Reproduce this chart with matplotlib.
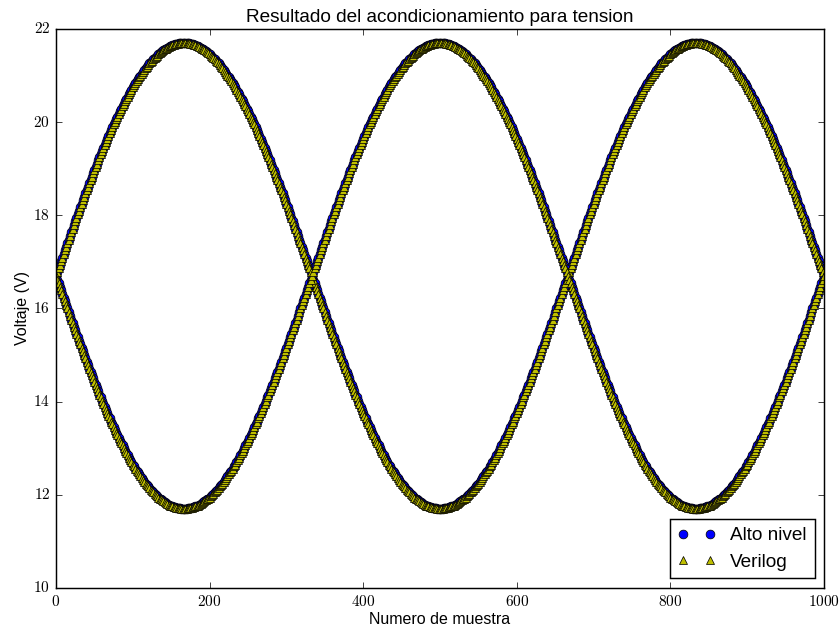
"""
Resultado del acondicionamiento para tension: high-level model vs. Verilog output.
"""
import numpy as np
import matplotlib
matplotlib.use('Agg')
import matplotlib.pyplot as plt
from matplotlib.ticker import FuncFormatter

plt.style.use('classic')
plt.rcParams['mathtext.fontset'] = 'cm'
plt.rcParams['font.family'] = ['Liberation Sans', 'DejaVu Sans']

# Voltage, upper curve, evenly spaced over samples 0..1000
alto_sup = [
    16.70, 16.78, 16.86, 16.94, 17.01, 17.09, 17.17, 17.25, 17.33, 17.40,
    17.48, 17.56, 17.64, 17.71, 17.79, 17.87, 17.94, 18.02, 18.09, 18.17,
    18.25, 18.32, 18.39, 18.47, 18.54, 18.61, 18.69, 18.76, 18.83, 18.90,
    18.97, 19.04, 19.11, 19.18, 19.25, 19.31, 19.38, 19.45, 19.51, 19.58,
    19.64, 19.70, 19.76, 19.83, 19.89, 19.95, 20.01, 20.07, 20.12, 20.18,
    20.24, 20.29, 20.34, 20.40, 20.45, 20.50, 20.55, 20.60, 20.65, 20.70,
    20.75, 20.79, 20.84, 20.88, 20.92, 20.96, 21.00, 21.04, 21.08, 21.12,
    21.16, 21.19, 21.22, 21.26, 21.29, 21.32, 21.35, 21.38, 21.40, 21.43,
    21.46, 21.48, 21.50, 21.52, 21.54, 21.56, 21.58, 21.60, 21.61, 21.63,
    21.64, 21.65, 21.66, 21.67, 21.68, 21.68, 21.69, 21.69, 21.70, 21.70,
    21.70,
    21.70, 21.70, 21.69, 21.69, 21.68, 21.68, 21.67, 21.66, 21.65, 21.64,
    21.63, 21.61, 21.60, 21.58, 21.56, 21.54, 21.52, 21.50, 21.48, 21.46,
    21.43, 21.40, 21.38, 21.35, 21.32, 21.29, 21.26, 21.22, 21.19, 21.16,
    21.12, 21.08, 21.04, 21.00, 20.96, 20.92, 20.88, 20.84, 20.79, 20.75,
    20.70, 20.65, 20.60, 20.55, 20.50, 20.45, 20.40, 20.34, 20.29, 20.24,
    20.18, 20.12, 20.07, 20.01, 19.95, 19.89, 19.83, 19.76, 19.70, 19.64,
    19.58, 19.51, 19.45, 19.38, 19.31, 19.25, 19.18, 19.11, 19.04, 18.97,
    18.90, 18.83, 18.76, 18.69, 18.61, 18.54, 18.47, 18.39, 18.32, 18.25,
    18.17, 18.09, 18.02, 17.94, 17.87, 17.79, 17.71, 17.64, 17.56, 17.48,
    17.40, 17.33, 17.25, 17.17, 17.09, 17.01, 16.94, 16.86, 16.78, 16.70,
    16.62, 16.54, 16.46, 16.39, 16.31, 16.23, 16.15, 16.07, 16.00, 15.92,
    15.84, 15.76, 15.69, 15.61, 15.53, 15.46, 15.38, 15.31, 15.23, 15.15,
    15.08, 15.01, 14.93, 14.86, 14.79, 14.71, 14.64, 14.57, 14.50, 14.43,
    14.36, 14.29, 14.22, 14.15, 14.09, 14.02, 13.95, 13.89, 13.82, 13.76,
    13.70, 13.64, 13.57, 13.51, 13.45, 13.39, 13.33, 13.28, 13.22, 13.16,
    13.11, 13.06, 13.00, 12.95, 12.90, 12.85, 12.80, 12.75, 12.70, 12.65,
    12.61, 12.56, 12.52, 12.48, 12.44, 12.40, 12.36, 12.32, 12.28, 12.24,
    12.21, 12.18, 12.14, 12.11, 12.08, 12.05, 12.02, 12.00, 11.97, 11.94,
    11.92, 11.90, 11.88, 11.86, 11.84, 11.82, 11.80, 11.79, 11.77, 11.76,
    11.75, 11.74, 11.73, 11.72, 11.72, 11.71, 11.71, 11.70, 11.70, 11.70,
    11.70, 11.70, 11.71, 11.71, 11.72, 11.72, 11.73, 11.74, 11.75, 11.76,
    11.77, 11.79, 11.80, 11.82, 11.84, 11.86, 11.88, 11.90, 11.92, 11.94,
    11.97, 12.00, 12.02, 12.05, 12.08, 12.11, 12.14, 12.18, 12.21, 12.24,
    12.28, 12.32, 12.36, 12.40, 12.44, 12.48, 12.52, 12.56, 12.61, 12.65,
    12.70, 12.75, 12.80, 12.85, 12.90, 12.95, 13.00, 13.06, 13.11, 13.16,
    13.22, 13.28, 13.33, 13.39, 13.45, 13.51, 13.57, 13.64, 13.70, 13.76,
    13.82, 13.89, 13.95, 14.02, 14.09, 14.15, 14.22, 14.29, 14.36, 14.43,
    14.50, 14.57, 14.64, 14.71, 14.79, 14.86, 14.93, 15.01, 15.08, 15.15,
    15.23, 15.31, 15.38, 15.46, 15.53, 15.61, 15.69, 15.76, 15.84, 15.92,
    16.00, 16.07, 16.15, 16.23, 16.31, 16.39, 16.46, 16.54, 16.62, 16.70,
    16.78, 16.86, 16.94, 17.01, 17.09, 17.17, 17.25, 17.33, 17.40, 17.48,
    17.56, 17.64, 17.71, 17.79, 17.87, 17.94, 18.02, 18.09, 18.17, 18.25,
    18.32, 18.39, 18.47, 18.54, 18.61, 18.69, 18.76, 18.83, 18.90, 18.97,
    19.04, 19.11, 19.18, 19.25, 19.31, 19.38, 19.45, 19.51, 19.58, 19.64,
    19.70, 19.76, 19.83, 19.89, 19.95, 20.01, 20.07, 20.12, 20.18, 20.24,
    20.29, 20.34, 20.40, 20.45, 20.50, 20.55, 20.60, 20.65, 20.70, 20.75,
    20.79, 20.84, 20.88, 20.92, 20.96, 21.00, 21.04, 21.08, 21.12, 21.16,
    21.19, 21.22, 21.26, 21.29, 21.32, 21.35, 21.38, 21.40, 21.43, 21.46,
    21.48, 21.50, 21.52, 21.54, 21.56, 21.58, 21.60, 21.61, 21.63, 21.64,
    21.65, 21.66, 21.67, 21.68, 21.68, 21.69, 21.69, 21.70, 21.70, 21.70,
    21.70, 21.70, 21.69, 21.69, 21.68, 21.68, 21.67, 21.66, 21.65, 21.64,
    21.63, 21.61, 21.60, 21.58, 21.56, 21.54, 21.52, 21.50, 21.48, 21.46,
    21.43, 21.40, 21.38, 21.35, 21.32, 21.29, 21.26, 21.22, 21.19, 21.16,
    21.12, 21.08, 21.04, 21.00, 20.96, 20.92, 20.88, 20.84, 20.79, 20.75,
    20.70, 20.65, 20.60, 20.55, 20.50, 20.45, 20.40, 20.34, 20.29, 20.24,
    20.18, 20.12, 20.07, 20.01, 19.95, 19.89, 19.83, 19.76, 19.70, 19.64,
    19.58, 19.51, 19.45, 19.38, 19.31, 19.25, 19.18, 19.11, 19.04, 18.97,
    18.90, 18.83, 18.76, 18.69, 18.61, 18.54, 18.47, 18.39, 18.32, 18.25,
    18.17, 18.09, 18.02, 17.94, 17.87, 17.79, 17.71, 17.64, 17.56, 17.48,
    17.40, 17.33, 17.25, 17.17, 17.09, 17.01, 16.94, 16.86, 16.78, 16.70,
]

# Lower curve, same sample spacing
alto_inf = [
    16.70,
    16.62, 16.54, 16.46, 16.39, 16.31, 16.23, 16.15, 16.07, 16.00, 15.92,
    15.84, 15.76, 15.69, 15.61, 15.53, 15.46, 15.38, 15.31, 15.23, 15.15,
    15.08, 15.01, 14.93, 14.86, 14.79, 14.71, 14.64, 14.57, 14.50, 14.43,
    14.36, 14.29, 14.22, 14.15, 14.09, 14.02, 13.95, 13.89, 13.82, 13.76,
    13.70, 13.64, 13.57, 13.51, 13.45, 13.39, 13.33, 13.28, 13.22, 13.16,
    13.11, 13.06, 13.00, 12.95, 12.90, 12.85, 12.80, 12.75, 12.70, 12.65,
    12.61, 12.56, 12.52, 12.48, 12.44, 12.40, 12.36, 12.32, 12.28, 12.24,
    12.21, 12.18, 12.14, 12.11, 12.08, 12.05, 12.02, 12.00, 11.97, 11.94,
    11.92, 11.90, 11.88, 11.86, 11.84, 11.82, 11.80, 11.79, 11.77, 11.76,
    11.75, 11.74, 11.73, 11.72, 11.72, 11.71, 11.71, 11.70, 11.70, 11.70,
    11.70, 11.70, 11.71, 11.71, 11.72, 11.72, 11.73, 11.74, 11.75, 11.76,
    11.77, 11.79, 11.80, 11.82, 11.84, 11.86, 11.88, 11.90, 11.92, 11.94,
    11.97, 12.00, 12.02, 12.05, 12.08, 12.11, 12.14, 12.18, 12.21, 12.24,
    12.28, 12.32, 12.36, 12.40, 12.44, 12.48, 12.52, 12.56, 12.61, 12.65,
    12.70, 12.75, 12.80, 12.85, 12.90, 12.95, 13.00, 13.06, 13.11, 13.16,
    13.22, 13.28, 13.33, 13.39, 13.45, 13.51, 13.57, 13.64, 13.70, 13.76,
    13.82, 13.89, 13.95, 14.02, 14.09, 14.15, 14.22, 14.29, 14.36, 14.43,
    14.50, 14.57, 14.64, 14.71, 14.79, 14.86, 14.93, 15.01, 15.08, 15.15,
    15.23, 15.31, 15.38, 15.46, 15.53, 15.61, 15.69, 15.76, 15.84, 15.92,
    16.00, 16.07, 16.15, 16.23, 16.31, 16.39, 16.46, 16.54, 16.62, 16.70,
    16.78, 16.86, 16.94, 17.01, 17.09, 17.17, 17.25, 17.33, 17.40, 17.48,
    17.56, 17.64, 17.71, 17.79, 17.87, 17.94, 18.02, 18.09, 18.17, 18.25,
    18.32, 18.39, 18.47, 18.54, 18.61, 18.69, 18.76, 18.83, 18.90, 18.97,
    19.04, 19.11, 19.18, 19.25, 19.31, 19.38, 19.45, 19.51, 19.58, 19.64,
    19.70, 19.76, 19.83, 19.89, 19.95, 20.01, 20.07, 20.12, 20.18, 20.24,
    20.29, 20.34, 20.40, 20.45, 20.50, 20.55, 20.60, 20.65, 20.70, 20.75,
    20.79, 20.84, 20.88, 20.92, 20.96, 21.00, 21.04, 21.08, 21.12, 21.16,
    21.19, 21.22, 21.26, 21.29, 21.32, 21.35, 21.38, 21.40, 21.43, 21.46,
    21.48, 21.50, 21.52, 21.54, 21.56, 21.58, 21.60, 21.61, 21.63, 21.64,
    21.65, 21.66, 21.67, 21.68, 21.68, 21.69, 21.69, 21.70, 21.70, 21.70,
    21.70, 21.70, 21.69, 21.69, 21.68, 21.68, 21.67, 21.66, 21.65, 21.64,
    21.63, 21.61, 21.60, 21.58, 21.56, 21.54, 21.52, 21.50, 21.48, 21.46,
    21.43, 21.40, 21.38, 21.35, 21.32, 21.29, 21.26, 21.22, 21.19, 21.16,
    21.12, 21.08, 21.04, 21.00, 20.96, 20.92, 20.88, 20.84, 20.79, 20.75,
    20.70, 20.65, 20.60, 20.55, 20.50, 20.45, 20.40, 20.34, 20.29, 20.24,
    20.18, 20.12, 20.07, 20.01, 19.95, 19.89, 19.83, 19.76, 19.70, 19.64,
    19.58, 19.51, 19.45, 19.38, 19.31, 19.25, 19.18, 19.11, 19.04, 18.97,
    18.90, 18.83, 18.76, 18.69, 18.61, 18.54, 18.47, 18.39, 18.32, 18.25,
    18.17, 18.09, 18.02, 17.94, 17.87, 17.79, 17.71, 17.64, 17.56, 17.48,
    17.40, 17.33, 17.25, 17.17, 17.09, 17.01, 16.94, 16.86, 16.78, 16.70,
    16.62, 16.54, 16.46, 16.39, 16.31, 16.23, 16.15, 16.07, 16.00, 15.92,
    15.84, 15.76, 15.69, 15.61, 15.53, 15.46, 15.38, 15.31, 15.23, 15.15,
    15.08, 15.01, 14.93, 14.86, 14.79, 14.71, 14.64, 14.57, 14.50, 14.43,
    14.36, 14.29, 14.22, 14.15, 14.09, 14.02, 13.95, 13.89, 13.82, 13.76,
    13.70, 13.64, 13.57, 13.51, 13.45, 13.39, 13.33, 13.28, 13.22, 13.16,
    13.11, 13.06, 13.00, 12.95, 12.90, 12.85, 12.80, 12.75, 12.70, 12.65,
    12.61, 12.56, 12.52, 12.48, 12.44, 12.40, 12.36, 12.32, 12.28, 12.24,
    12.21, 12.18, 12.14, 12.11, 12.08, 12.05, 12.02, 12.00, 11.97, 11.94,
    11.92, 11.90, 11.88, 11.86, 11.84, 11.82, 11.80, 11.79, 11.77, 11.76,
    11.75, 11.74, 11.73, 11.72, 11.72, 11.71, 11.71, 11.70, 11.70, 11.70,
    11.70, 11.70, 11.71, 11.71, 11.72, 11.72, 11.73, 11.74, 11.75, 11.76,
    11.77, 11.79, 11.80, 11.82, 11.84, 11.86, 11.88, 11.90, 11.92, 11.94,
    11.97, 12.00, 12.02, 12.05, 12.08, 12.11, 12.14, 12.18, 12.21, 12.24,
    12.28, 12.32, 12.36, 12.40, 12.44, 12.48, 12.52, 12.56, 12.61, 12.65,
    12.70, 12.75, 12.80, 12.85, 12.90, 12.95, 13.00, 13.06, 13.11, 13.16,
    13.22, 13.28, 13.33, 13.39, 13.45, 13.51, 13.57, 13.64, 13.70, 13.76,
    13.82, 13.89, 13.95, 14.02, 14.09, 14.15, 14.22, 14.29, 14.36, 14.43,
    14.50, 14.57, 14.64, 14.71, 14.79, 14.86, 14.93, 15.01, 15.08, 15.15,
    15.23, 15.31, 15.38, 15.46, 15.53, 15.61, 15.69, 15.76, 15.84, 15.92,
    16.00, 16.07, 16.15, 16.23, 16.31, 16.39, 16.46, 16.54, 16.62, 16.70,
]

# Verilog output sits right on top of the high-level model at this scale
verilog_sup = alto_sup
verilog_inf = alto_inf

n_sup = np.linspace(0, 1000, len(alto_sup))
n_inf = np.linspace(0, 1000, len(alto_inf))

fig = plt.figure(figsize=(839 / 105, 630 / 105), dpi=105, facecolor='white')
ax = fig.add_axes([0.0667, 0.0667, 0.9154, 0.8873])

mk = dict(linestyle='none', markeredgecolor='k', markeredgewidth=0.5, markersize=6)
ax.plot(n_sup, alto_sup, marker='o', color='#0000ff', label='Alto nivel', **mk)
ax.plot(n_inf, alto_inf, marker='o', color='#0000ff', **mk)
ax.plot(n_sup, verilog_sup, marker='^', color='#bfbf00', label='Verilog', **mk)
ax.plot(n_inf, verilog_inf, marker='^', color='#bfbf00', **mk)

ax.set_xlim(0, 1000)
ax.set_ylim(10, 22)
ax.set_xticks(range(0, 1001, 200))
ax.set_yticks(range(10, 23, 2))
ax.xaxis.set_major_formatter(FuncFormatter(lambda v, p: r'$%d$' % v))
ax.yaxis.set_major_formatter(FuncFormatter(lambda v, p: r'$%d$' % v))
ax.tick_params(labelsize=10.5)

ax.set_title('Resultado del acondicionamiento para tension', fontsize=13, pad=5)
ax.set_xlabel('Numero de muestra', fontsize=11, labelpad=2)
ax.set_ylabel('Voltaje (V)', fontsize=11, labelpad=2)
ax.legend(loc='lower right', numpoints=2, fontsize=13)

fig.savefig('out.png', dpi=105, facecolor='white')
